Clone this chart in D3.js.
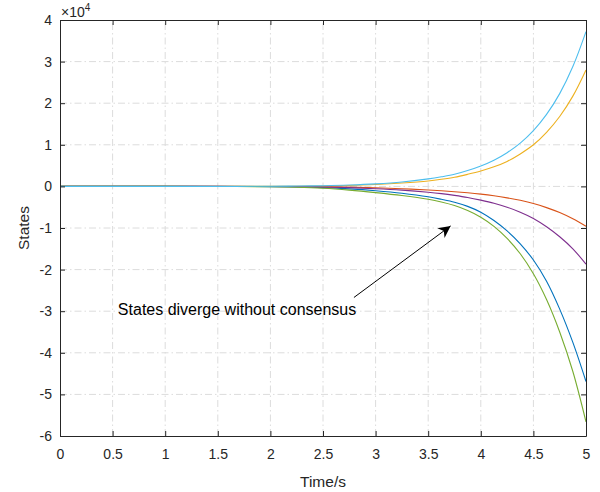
<!DOCTYPE html>
<html><head><meta charset="utf-8">
<script src="https://cdn.jsdelivr.net/npm/d3@7"></script>
<style>html,body{margin:0;padding:0;background:#fff;}svg{display:block;font-family:"Liberation Sans",Arial,sans-serif;}</style>
</head><body>
<script>
const times = [0, 0.5, 1, 1.5, 2, 2.25, 2.5, 2.75, 3, 3.25, 3.5, 3.625, 3.75, 3.875, 4, 4.125, 4.25, 4.375, 4.5, 4.625, 4.75, 4.875, 5];
// values in units of 1e4
const sBlue   = [0, 0, 0, -0.001, -0.005, -0.013, -0.03, -0.06, -0.105, -0.165, -0.25, -0.31, -0.38, -0.48, -0.62, -0.82, -1.07, -1.38, -1.77, -2.28, -2.95, -3.75, -4.69];
const sOrange = [0, 0, 0, 0, -0.002, -0.004, -0.009, -0.018, -0.033, -0.055, -0.087, -0.105, -0.127, -0.153, -0.185, -0.225, -0.275, -0.335, -0.41, -0.51, -0.63, -0.78, -0.96];
const sYellow = [0, 0, 0, 0, 0.002, 0.005, 0.01, 0.022, 0.045, 0.08, 0.13, 0.17, 0.22, 0.29, 0.37, 0.47, 0.60, 0.78, 1.0, 1.30, 1.68, 2.17, 2.8];
const sPurple = [0, 0, 0, 0, -0.003, -0.007, -0.015, -0.03, -0.055, -0.09, -0.14, -0.173, -0.215, -0.265, -0.33, -0.405, -0.50, -0.62, -0.77, -0.97, -1.21, -1.50, -1.87];
const sGreen  = [0, 0, 0, -0.002, -0.008, -0.02, -0.045, -0.09, -0.15, -0.22, -0.31, -0.375, -0.46, -0.58, -0.74, -0.96, -1.25, -1.62, -2.1, -2.72, -3.5, -4.45, -5.66];
const sCyan   = [0, 0, 0, 0.0005, 0.003, 0.008, 0.016, 0.032, 0.06, 0.105, 0.18, 0.23, 0.29, 0.38, 0.49, 0.63, 0.81, 1.04, 1.34, 1.73, 2.23, 2.88, 3.72];
const seriesList = [sBlue, sOrange, sYellow, sPurple, sGreen, sCyan];
const colors = ["#0072BD", "#D95319", "#EDB120", "#7E2F8E", "#77AC30", "#4DBEEE"];
const xTicks = [0, 0.5, 1, 1.5, 2, 2.5, 3, 3.5, 4, 4.5, 5];
const yTicks = [-6, -5, -4, -3, -2, -1, 0, 1, 2, 3, 4];
const xLabel = "Time/s", yLabel = "States";
const annText = "States diverge without consensus";

const W = 600, H = 492;
const m = {l: 60, r: 14, t: 20, b: 56};
const svg = d3.select("body").append("svg").attr("width", W).attr("height", H);
const x = d3.scaleLinear().domain([0, 5]).range([m.l, W - m.r]);
const y = d3.scaleLinear().domain([-6, 4]).range([H - m.b, m.t]);
const axisCol = "#262626";
const FF = '"Liberation Sans",Arial,sans-serif';

// grid
const g = svg.append("g");
g.selectAll(".gx").data(xTicks.slice(1, -1)).join("line")
  .attr("x1", d => x(d)).attr("x2", d => x(d)).attr("y1", y(-6)).attr("y2", y(4))
  .attr("stroke", "#dcdcdc").attr("stroke-width", 1).attr("stroke-dasharray", "7,3,1.5,3");
g.selectAll(".gy").data(yTicks.slice(1, -1)).join("line")
  .attr("y1", d => y(d)).attr("y2", d => y(d)).attr("x1", x(0)).attr("x2", x(5))
  .attr("stroke", "#dcdcdc").attr("stroke-width", 1).attr("stroke-dasharray", "7,3,1.5,3");

// lines
const line = d3.line().x((d, i) => x(times[i])).y(d => y(d)).curve(d3.curveCatmullRom.alpha(0.5));
seriesList.forEach((s, k) => {
  svg.append("path").attr("d", line(s)).attr("fill", "none")
    .attr("stroke", colors[k]).attr("stroke-width", 1.1);
});

// axes
const fmt = d => String(d);
const ax = svg.append("g").attr("transform", `translate(0,${y(-6)})`)
  .call(d3.axisBottom(x).tickValues(xTicks).tickFormat(fmt).tickSizeInner(-5).tickSizeOuter(0).tickPadding(13));
const axT = svg.append("g").attr("transform", `translate(0,${y(4)})`)
  .call(d3.axisTop(x).tickValues(xTicks).tickFormat("").tickSizeInner(-5).tickSizeOuter(0));
const ay = svg.append("g").attr("transform", `translate(${x(0)},0)`)
  .call(d3.axisLeft(y).tickValues(yTicks).tickFormat(fmt).tickSizeInner(-5).tickSizeOuter(0).tickPadding(8));
const ayR = svg.append("g").attr("transform", `translate(${x(5)},0)`)
  .call(d3.axisRight(y).tickValues(yTicks).tickFormat("").tickSizeInner(-5).tickSizeOuter(0));
[ax, axT, ay, ayR].forEach(a => {
  a.select(".domain").attr("stroke", axisCol).attr("stroke-width", 1);
  a.selectAll(".tick line").attr("stroke", axisCol);
  a.selectAll(".tick text").attr("fill", axisCol).style("font-size", "14px").style("font-family", FF);
});

// exponent
const ex = svg.append("text").attr("x", x(0) + 1).attr("y", 17).attr("fill", axisCol)
  .style("font-size", "14px");
ex.append("tspan").text("\u00d710");
ex.append("tspan").attr("dy", -6).style("font-size", "10px").text("4");

// labels
svg.append("text").attr("x", (x(0) + x(5)) / 2).attr("y", 487).attr("text-anchor", "middle")
  .attr("fill", axisCol).style("font-size", "15.5px").text(xLabel);
svg.append("text").attr("transform", `translate(29,${(y(-6) + y(4)) / 2}) rotate(-90)`)
  .attr("text-anchor", "middle").attr("fill", axisCol).style("font-size", "15.5px").text(yLabel);

// annotation
svg.append("defs").append("marker").attr("id", "ah").attr("viewBox", "0 0 10 10")
  .attr("refX", 10).attr("refY", 5).attr("markerWidth", 17).attr("markerHeight", 12)
  .attr("markerUnits", "userSpaceOnUse").attr("orient", "auto")
  .append("path").attr("d", "M0,0 L10,5 L0,10 L3,5 Z").attr("fill", "#000");
svg.append("line").attr("x1", x(2.794)).attr("y1", y(-2.67)).attr("x2", x(3.713)).attr("y2", y(-0.95))
  .attr("stroke", "#000").attr("stroke-width", 1).attr("marker-end", "url(#ah)");
svg.append("text").attr("x", x(0.55)).attr("y", 315).attr("fill", "#000")
  .style("font-size", "16px").text(annText);
</script>
</body></html>
